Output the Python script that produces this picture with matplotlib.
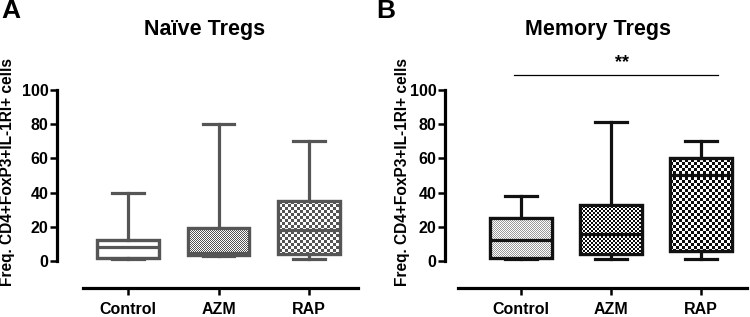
import numpy as np
import matplotlib
matplotlib.use("Agg")
import matplotlib.pyplot as plt
from matplotlib.patches import PathPatch

plt.rcParams['font.family'] = ['Liberation Sans', 'DejaVu Sans']
plt.rcParams['font.weight'] = 'bold'

categories = ["Control", "AZM", "RAP"]
# Naive Tregs: min, q1, median, q3, max
naive_min = [1, 3, 1]
naive_q1 = [2, 3.5, 4]
naive_med = [8, 4.5, 18]
naive_q3 = [12, 19, 35]
naive_max = [40, 80, 70]
# Memory Tregs
mem_min = [1, 1, 1]
mem_q1 = [1.5, 4, 6]
mem_med = [12, 16, 50]
mem_q3 = [25, 33, 60]
mem_max = [38, 81, 70]

yticks = [0, 20, 40, 60, 80, 100]
ylabel = "Freq. CD4+FoxP3+IL-1RI+ cells"
sig_text = "**"

W, H = 750, 317
fig = plt.figure(figsize=(7.5, 3.17), dpi=100)


def px_ax(left, right, top, bottom):
    return [left / W, (H - bottom) / H, (right - left) / W, (bottom - top) / H]


def pattern(h, w, cell, c1, c2):
    yy, xx = np.mgrid[0:h, 0:w]
    chk = ((yy // cell + xx // cell) % 2).astype(bool)
    img = np.ones((h, w, 3))
    img[chk] = c1
    img[~chk] = c2
    return img


YLO = -15.8


def panel(ax, mins, q1s, meds, q3s, maxs, color, fills, xl, xspine_left):
    stats = []
    for i in range(3):
        stats.append(dict(whislo=mins[i], q1=q1s[i], med=meds[i], q3=q3s[i],
                          whishi=maxs[i], label=categories[i]))
    lw = 2.3
    bp = ax.bxp(stats, positions=range(3), widths=0.68, patch_artist=True,
                showfliers=False,
                boxprops=dict(facecolor='white', edgecolor=color, linewidth=lw),
                medianprops=dict(color=color, linewidth=lw),
                whiskerprops=dict(color=color, linewidth=lw),
                capprops=dict(color=color, linewidth=lw),
                capwidths=0.35)
    ax.set_xlim(*xl)
    ax.set_ylim(YLO, 100)
    fig.canvas.draw()
    bb = ax.get_window_extent()
    hpx, wpx = int(round(bb.height)), int(round(bb.width))
    for i, f in enumerate(fills):
        if f is None:
            continue
        cell, c1, c2 = f
        img = pattern(hpx, wpx, cell, c1, c2)
        im = ax.imshow(img, extent=(xl[0], xl[1], YLO, 100), aspect='auto',
                       interpolation='nearest', zorder=1.5)
        im.set_clip_path(bp['boxes'][i])
        bp['boxes'][i].set_zorder(1)
    for k in ['medians', 'whiskers', 'caps']:
        for a in bp[k]:
            a.set_zorder(3)
    for b in bp['boxes']:
        pp = PathPatch(b.get_path(), transform=b.get_transform(), facecolor='none',
                       edgecolor=color, linewidth=lw, zorder=3)
        ax.add_patch(pp)
    ax.set_aspect('auto')
    ax.set_xlim(*xl)
    ax.set_ylim(YLO, 100)
    for s in ['top', 'right']:
        ax.spines[s].set_visible(False)
    ax.spines['left'].set_bounds(0, 100)
    ax.spines['bottom'].set_bounds(xspine_left, xl[1])
    for s in ['left', 'bottom']:
        ax.spines[s].set_linewidth(2.3)
        ax.spines[s].set_color('black')
    ax.set_yticks(yticks)
    ax.set_xticks(range(3))
    ax.set_xticklabels(categories)
    ax.tick_params(axis='both', width=1.8, length=5, labelsize=11.5, pad=1, color='black')
    ax.tick_params(axis='x', pad=5)
    for t in ax.get_xticklabels() + ax.get_yticklabels():
        t.set_fontweight('bold')
    ax.set_ylabel(ylabel, fontsize=11.2, fontweight='bold')


grey = '#555555'
axA = fig.add_axes(px_ax(57, 358, 90, 288))
naive_fills = [None,
               (1, (0.33, 0.33, 0.33), (1, 1, 1)),
               (3, (0.33, 0.33, 0.33), (1, 1, 1))]
panel(axA, naive_min, naive_q1, naive_med, naive_q3, naive_max, grey, naive_fills,
      (-0.785, 2.54), -0.497)
axA.yaxis.set_label_coords(-0.138, 0.584)

axB = fig.add_axes(px_ax(445, 747, 90, 288))
mem_fills = [(1, (0.6, 0.6, 0.6), (1, 1, 1)),
             (2, (0.05, 0.05, 0.05), (1, 1, 1)),
             (3, (0.05, 0.05, 0.05), (1, 1, 1))]
panel(axB, mem_min, mem_q1, mem_med, mem_q3, mem_max, '#111111', mem_fills,
      (-0.844, 2.51), -0.7)
axB.yaxis.set_label_coords(-0.116, 0.584)

# significance bar
axB.plot([-0.08, 2.19], [108.8, 108.8], color='black', lw=0.9, clip_on=False)
axB.text(1.12, 111, sig_text, ha='center', va='bottom', fontsize=13,
         fontweight='bold', clip_on=False)

fig.text(205 / W, 1 - 30 / H, "Naïve Tregs", ha='center', va='center',
         fontsize=15.5, fontweight='bold')
fig.text(598 / W, 1 - 30 / H, "Memory Tregs", ha='center', va='center',
         fontsize=15.5, fontweight='bold')
fig.text(1 / W, 1 + 1 / H, "A", ha='left', va='top', fontsize=19, fontweight='bold')
fig.text(376 / W, 1 + 1 / H, "B", ha='left', va='top', fontsize=19, fontweight='bold')

fig.savefig("out.png", dpi=100)
